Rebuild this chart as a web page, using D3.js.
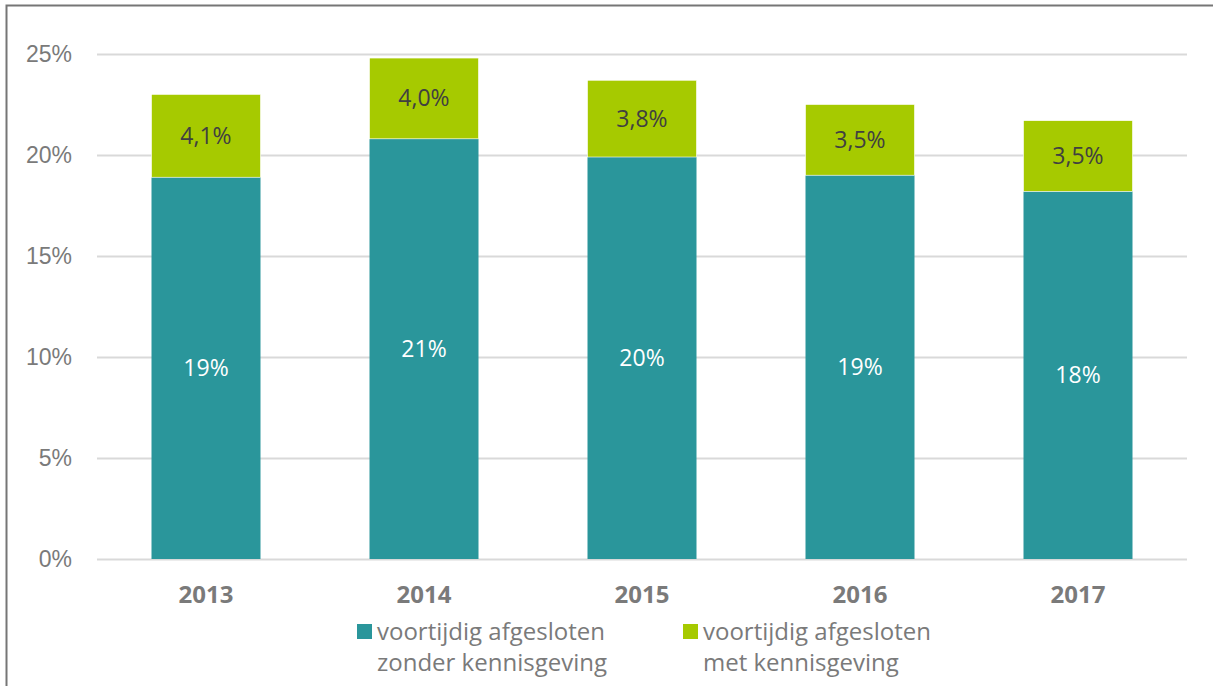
<!DOCTYPE html>
<html lang="nl">
<head>
<meta charset="UTF-8">
<title>Voortijdig afgesloten</title>
<script src="https://cdn.jsdelivr.net/npm/d3@7"></script>
<style>
  body { margin: 0; background: #fff; }
  svg { display: block; font-family: "Open Sans", sans-serif; }
</style>
</head>
<body>
<div id="chart"></div>
<script>
const years = ["2013", "2014", "2015", "2016", "2017"];
const zonder = [18.9, 20.8, 19.9, 19.0, 18.2];
const met = [4.1, 4.0, 3.8, 3.5, 3.5];
const yTicks = [0, 5, 10, 15, 20, 25];
const seriesNames = [
  ["voortijdig afgesloten", "zonder kennisgeving"],
  ["voortijdig afgesloten", "met kennisgeving"]
];

const width = 1213, height = 686;
const margin = { top: 54, right: 26, bottom: 127, left: 97 };
const teal = "#2a969b", green = "#a6ca00";

const svg = d3.select("#chart").append("svg")
  .attr("width", width)
  .attr("height", height);

// outer frame (only top and left edges are visible)
svg.append("rect")
  .attr("x", 6.5).attr("y", 5.5)
  .attr("width", width + 20).attr("height", height + 20)
  .attr("fill", "none")
  .attr("stroke", "#767676")
  .attr("stroke-width", 2);

const x = d3.scaleBand()
  .domain(years)
  .range([margin.left, width - margin.right])
  .paddingInner(0.5)
  .paddingOuter(0.25);

const y = d3.scaleLinear()
  .domain([0, 25])
  .range([height - margin.bottom, margin.top]);

const nl = d3.formatLocale({ decimal: ",", thousands: ".", grouping: [3], currency: ["€", ""] });
const fmtDec = nl.format(".1f");

// gridlines + y labels
const yAxis = svg.append("g")
  .attr("transform", `translate(${margin.left},0)`)
  .call(d3.axisLeft(y).tickValues(yTicks).tickSize(-(width - margin.left - margin.right)).tickPadding(25).tickFormat(d => d + "%"));
yAxis.select(".domain").remove();
yAxis.selectAll(".tick line").attr("stroke", "#d9d9d9").attr("stroke-width", 2);
yAxis.selectAll(".tick text").attr("fill", "#7a7a7a").attr("font-size", 23);

// x labels
const xAxis = svg.append("g")
  .attr("transform", `translate(0,${height - margin.bottom})`)
  .call(d3.axisBottom(x).tickSize(0).tickPadding(27));
xAxis.select(".domain").remove();
xAxis.selectAll(".tick text")
  .attr("fill", "#7a7a7a")
  .attr("font-size", 24)
  .attr("font-family", "'Noto Sans', sans-serif")
  .attr("font-weight", "bold");

const data = years.map((yr, i) => ({ year: yr, zonder: zonder[i], met: met[i] }));

const bars = svg.append("g");
bars.selectAll(".zonder")
  .data(data)
  .join("rect")
  .attr("x", d => x(d.year))
  .attr("width", x.bandwidth())
  .attr("y", d => y(d.zonder))
  .attr("height", d => y(0) - y(d.zonder))
  .attr("fill", teal);

bars.selectAll(".met")
  .data(data)
  .join("rect")
  .attr("x", d => x(d.year))
  .attr("width", x.bandwidth())
  .attr("y", d => y(d.zonder + d.met))
  .attr("height", d => y(d.zonder) - y(d.zonder + d.met))
  .attr("fill", green)
  .attr("stroke", "#fff")
  .attr("stroke-width", 0.6);

// value labels
svg.append("g").selectAll("text")
  .data(data)
  .join("text")
  .attr("x", d => x(d.year) + x.bandwidth() / 2)
  .attr("y", d => (y(0) + y(d.zonder)) / 2)
  .attr("dy", "0.35em")
  .attr("text-anchor", "middle")
  .attr("fill", "#fff")
  .attr("font-size", 23)
  .text(d => Math.round(d.zonder) + "%");

svg.append("g").selectAll("text")
  .data(data)
  .join("text")
  .attr("x", d => x(d.year) + x.bandwidth() / 2)
  .attr("y", d => (y(d.zonder) + y(d.zonder + d.met)) / 2)
  .attr("dy", "0.35em")
  .attr("text-anchor", "middle")
  .attr("fill", "#404040")
  .attr("font-size", 23)
  .text(d => fmtDec(d.met) + "%");

// legend
const legend = svg.append("g").selectAll("g")
  .data(seriesNames)
  .join("g")
  .attr("transform", (d, i) => `translate(${357 + i * 326},624)`);

legend.append("rect")
  .attr("width", 15)
  .attr("height", 15)
  .attr("fill", (d, i) => i === 0 ? teal : green);

legend.append("text")
  .attr("fill", "#7a7a7a")
  .attr("font-size", 24)
  .selectAll("tspan")
  .data(d => d)
  .join("tspan")
  .attr("x", 20)
  .attr("y", (d, i) => 16 + i * 31)
  .text(d => d);
</script>
</body>
</html>
